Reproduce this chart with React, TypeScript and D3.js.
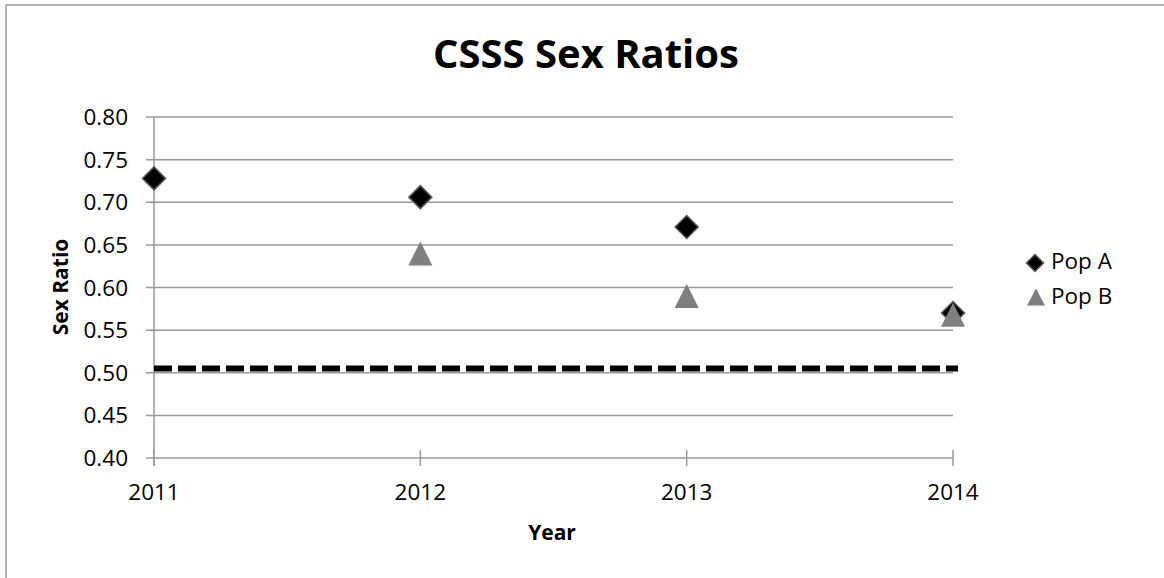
import React from 'react';
import * as d3 from 'd3';

const years = [2011, 2012, 2013, 2014];
const popA = [0.728, 0.706, 0.671, 0.570];
const popB: (number | null)[] = [null, 0.640, 0.590, 0.568];
const refLine = 0.505;
const yTicks = [0.4, 0.45, 0.5, 0.55, 0.6, 0.65, 0.7, 0.75, 0.8];

const W = 1164;
const H = 578;
const font = "'Open Sans', 'Liberation Sans', sans-serif";

const App = () => {
    const x = d3.scaleLinear().domain([2011, 2014]).range([154, 953]);
    const y = d3.scaleLinear().domain([0.4, 0.8]).range([458, 117]);

    const diamond = (cx: number, cy: number, r: number) =>
        `M${cx},${cy - r}L${cx + r},${cy}L${cx},${cy + r}L${cx - r},${cy}Z`;
    const tri = (cx: number, cy: number, w: number, h: number) =>
        `M${cx},${cy - h / 2}L${cx + w / 2},${cy + h / 2}L${cx - w / 2},${cy + h / 2}Z`;

    return (
        <svg width={W} height={H} style={{ position: 'absolute', left: 0, top: 0, background: '#fff' }}>
            <rect x={6} y={5} width={W + 10} height={H + 10} fill="#fff" stroke="#888" strokeWidth={1.3} />

            <text x={586} y={68} textAnchor="middle" fontFamily={font} fontWeight="bold" fontSize={40} fill="#000">
                CSSS Sex Ratios
            </text>

            {/* gridlines */}
            {yTicks.map(t => (
                <line key={t} x1={146} x2={953} y1={y(t)} y2={y(t)} stroke="#989898" strokeWidth={1.5} />
            ))}
            {/* y axis */}
            <line x1={154} x2={154} y1={117} y2={466} stroke="#989898" strokeWidth={1.5} />
            {/* x ticks */}
            {years.map(yr => (
                <line key={yr} x1={x(yr)} x2={x(yr)} y1={450} y2={466} stroke="#989898" strokeWidth={1.5} />
            ))}

            {yTicks.map(t => (
                <text key={t} x={128} y={y(t) + 8} textAnchor="end" fontFamily={font} fontSize={22.5} fill="#000">
                    {d3.format('.2f')(t)}
                </text>
            ))}
            {years.map(yr => (
                <text key={yr} x={x(yr)} y={500} textAnchor="middle" fontFamily={font} fontSize={22.5} fill="#000">
                    {yr}
                </text>
            ))}

            <text x={552} y={540} textAnchor="middle" fontFamily={font} fontWeight="bold" fontSize={21} fill="#000">
                Year
            </text>
            <text transform="translate(68,287) rotate(-90)" textAnchor="middle" fontFamily={font} fontWeight="bold" fontSize={21} fill="#000">
                Sex Ratio
            </text>

            {/* reference line */}
            <line x1={x(2011)} x2={958} y1={y(refLine)} y2={y(refLine)} stroke="#000" strokeWidth={6} strokeDasharray="18,6" />

            {/* Pop A */}
            {popA.map((v, i) => (
                <path key={i} d={diamond(x(years[i]), y(v), 11.5)} fill="#000" stroke="#555" strokeWidth={1.5} />
            ))}
            {/* Pop B */}
            {popB.map((v, i) => v == null ? null : (
                <path key={i} d={tri(x(years[i]), y(v), 24, 24)} fill="#7f7f7f" />
            ))}

            {/* legend */}
            <path d={diamond(1035, 263, 8.5)} fill="#000" stroke="#555" strokeWidth={1.5} />
            <text x={1051} y={269} fontFamily={font} fontSize={22.5} fill="#000">Pop A</text>
            <path d={tri(1036, 297, 18, 17)} fill="#7f7f7f" />
            <text x={1051} y={304} fontFamily={font} fontSize={22.5} fill="#000">Pop B</text>
        </svg>
    );
};

export default App;
